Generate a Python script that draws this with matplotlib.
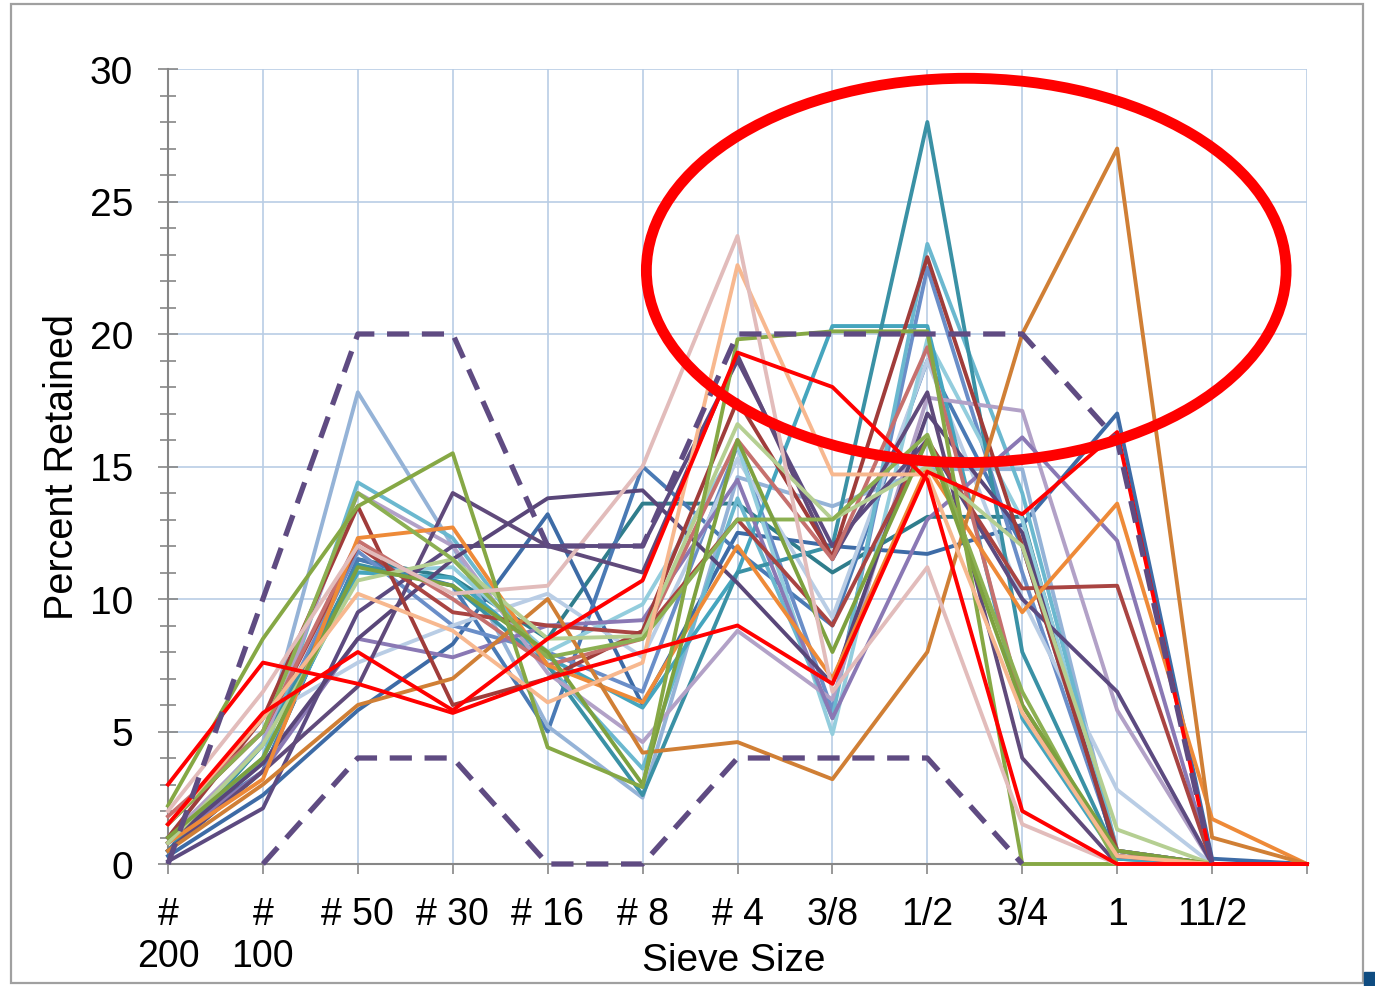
import matplotlib
matplotlib.use("Agg")
import matplotlib.pyplot as plt
from matplotlib.patches import Ellipse, Rectangle
import numpy as np

plt.rcParams['font.family'] = ['Liberation Sans', 'DejaVu Sans']

sieve_labels = ['#\n200', '#\n100', '# 50', '# 30', '# 16', '# 8', '# 4',
                '3/8', '1/2', '3/4', '1', '11/2', '']

nan = np.nan
upper_limit = [0, 10, 20, 20, 12, 12, 20, 20, 20, 20, 16, 0, nan]
lower_limit = [nan, 0, 4, 4, 0, 0, 4, 4, 4, 0, nan, nan, nan]

s01 = [2.2, 8.5, 13.5, 15.5, 4.4, 2.9, 19.8, 20.1, 20.1, 0, 0, 0, 0]
s02 = [1.5, 5.7, 8.0, 5.8, 8.5, 10.7, 19.3, 18.0, 14.5, 2.0, 0, 0, 0]
s03 = [3.0, 7.6, 6.8, 5.7, 7.0, 8.0, 9.0, 6.8, 14.8, 13.2, 16.3, 0, 0]
s04 = [0.5, 4.5, 11.3, 10.5, 7.5, 2.6, 11.0, 12.0, 28.0, 8.0, 0.3, 0, 0]
s05 = [0.5, 3.0, 6.0, 7.0, 10.0, 4.2, 4.6, 3.2, 8.0, 20.0, 27.0, 1.0, 0]
s06 = [2.0, 6.5, 12.0, 10.2, 10.5, 15.0, 23.7, 6.5, 11.2, 1.5, 0, 0, 0]
s07 = [1.5, 5.5, 10.2, 8.8, 6.1, 7.6, 22.6, 14.7, 14.7, 5.7, 0.3, 0, 0]
s08 = [0.8, 4.0, 11.0, 10.8, 7.8, 5.9, 11.0, 20.3, 20.3, 5.5, 0.2, 0, 0]
s09 = [0.3, 2.6, 5.8, 8.3, 13.2, 6.0, 12.5, 12.0, 11.7, 12.8, 17.0, 0.2, 0]
s10 = [1.0, 3.5, 11.5, 10.5, 5.0, 15.0, 11.8, 9.0, 19.0, 12.0, 0.5, 0, 0]
s11 = [0.1, 2.1, 9.5, 12.0, 12.0, 12.0, 19.0, 12.0, 16.0, 10.0, 6.5, 0, 0]
s12 = [0.5, 3.5, 6.7, 14.0, 12.0, 11.0, 19.2, 11.5, 17.8, 4.0, 0, 0, 0]
s13 = [1.0, 4.5, 14.0, 12.0, 7.2, 4.6, 8.8, 6.2, 17.6, 17.1, 5.8, 0, 0]
s14 = [0.8, 3.5, 8.5, 7.8, 9.0, 9.2, 14.5, 5.5, 13.0, 16.1, 12.2, 0, 0]
s15 = [1.5, 5.0, 12.0, 9.5, 9.0, 8.7, 13.0, 9.0, 16.0, 10.4, 10.5, 0, 0]
s16 = [1.0, 5.5, 13.5, 6.0, 7.0, 8.8, 17.5, 11.6, 22.9, 12.0, 0.5, 0, 0]
s17 = [1.8, 5.0, 12.2, 10.0, 7.5, 8.5, 16.0, 11.5, 19.5, 6.0, 0.3, 0, 0]
s18 = [0.8, 3.2, 12.3, 12.7, 7.5, 6.1, 12.0, 7.0, 15.0, 9.5, 13.6, 1.7, 0]
s19 = [1.0, 4.0, 14.4, 12.3, 7.5, 3.6, 13.8, 5.5, 23.4, 14.0, 0.5, 0, 0]
s20 = [0.8, 4.5, 10.7, 11.5, 8.5, 8.6, 16.6, 13.0, 15.0, 12.0, 1.3, 0, 0]
s21 = [1.5, 5.0, 14.0, 11.5, 7.8, 8.5, 13.0, 13.0, 16.2, 6.5, 0, 0, 0]
s22 = [1.0, 4.0, 11.2, 10.5, 8.0, 3.0, 16.0, 8.0, 16.0, 6.0, 0.5, 0, 0]
s23 = [0.8, 4.6, 17.8, 12.0, 5.2, 2.5, 14.6, 13.5, 14.9, 14.9, 0.5, 0, 0]
s24 = [1.0, 5.5, 7.6, 9.0, 10.2, 7.8, 15.3, 9.3, 19.0, 10.0, 2.8, 0, 0]
s25 = [0.5, 4.0, 11.0, 11.2, 8.0, 9.8, 15.8, 4.9, 19.8, 13.0, 0.5, 0, 0]
s26 = [0.5, 4.5, 11.8, 9.0, 8.0, 6.5, 15.8, 5.8, 22.5, 11.0, 0.5, 0, 0]
s27 = [0.5, 3.5, 11.5, 10.8, 8.5, 13.6, 13.6, 11.0, 13.1, 13.1, 0.2, 0, 0]
s28 = [0.8, 3.8, 8.5, 11.5, 13.8, 14.1, 10.6, 6.8, 17.0, 12.5, 0.3, 0, 0]

series = [s27, s09, s10, s26, s23, s24, s25, s19, s08, s04, s13, s14,
          s11, s12, s28, s15, s16, s17, s18, s05, s20, s21, s22, s01,
          s07, s06, s03, s02]
colors = ['#2F7D8C', '#3D6BA6', '#4A7AB5', '#6A8EC8', '#95B3D7', '#B9CDE5',
          '#93CDDD', '#6BB8CF', '#45A5BE', '#3A91A5', '#B2A1C7', '#8A78B4',
          '#5C4A80', '#604A7B', '#594679', '#A94442', '#A03C3A', '#C6706E',
          '#EE8A38', '#D07F35', '#B5CF92', '#8CB052', '#7DA13F', '#86A845',
          '#F7B88F', '#E2BCBB', '#FF0000', '#FF0000']

fig = plt.figure(figsize=(13.75, 9.87), dpi=100)
ax = fig.add_axes([168 / 1375, 1 - 865 / 987, (1307 - 168) / 1375, (865 - 70) / 987])

x = np.arange(len(sieve_labels))
for vals, c in zip(series, colors):
    ax.plot(x, vals, color=c, lw=2.8, clip_on=False, zorder=3)

limit_color = '#5F4B82'
ax.plot(x, upper_limit, color=limit_color, lw=3.8, ls=(0, (4.2, 2.4)), clip_on=False, zorder=4)
ax.plot(x, lower_limit, color=limit_color, lw=3.8, ls=(0, (4.2, 2.4)), clip_on=False, zorder=4)

ax.add_patch(Ellipse((8.41, 22.4), 6.74, 14.5, fill=False, edgecolor='#FF0000',
                     lw=7.8, zorder=5, clip_on=False))

ax.set_xlim(0, 12)
ax.set_ylim(0, 30)
ax.set_xticks(x)
ax.set_xticklabels(sieve_labels, fontsize=27, va='top')
ax.set_yticks(np.arange(0, 31, 5))
ax.set_yticks(np.arange(0, 31, 1), minor=True)
ax.tick_params(axis='y', which='major', direction='inout', length=14, width=1.2,
               color='#868686', labelsize=28, pad=18)
ax.tick_params(axis='y', which='minor', direction='inout', length=12, width=1.2,
               color='#868686')
ax.tick_params(axis='x', which='major', direction='out', length=7, width=1.2,
               color='#868686', pad=16)
ax.grid(True, which='major', color='#B9CDE5', lw=1.2, zorder=0)
ax.set_axisbelow(True)
for side in ['top', 'right']:
    ax.spines[side].set_visible(False)
for side in ['left', 'bottom']:
    ax.spines[side].set_color('#868686')
    ax.spines[side].set_linewidth(1.5)
    ax.spines[side].set_zorder(2)

ax.set_ylabel('Percent Retained', fontsize=28.5)
ax.yaxis.set_label_coords((62 - 168) / (1307 - 168), 0.5)
ax.set_xlabel('Sieve Size', fontsize=28)
ax.xaxis.set_label_coords((734 - 168) / (1307 - 168), -(961 - 865) / (865 - 70))
ax.xaxis.label.set_va('center')
ax.yaxis.label.set_ha('center')
ax.yaxis.label.set_va('center')

fig.patches.append(Rectangle((11 / 1375, 3 / 987), (1363 - 11) / 1375, (983 - 4) / 987,
                             transform=fig.transFigure, fill=False,
                             edgecolor='#A0A0A0', lw=1.6))
fig.patches.append(Rectangle((1364 / 1375, 0), 11 / 1375, 14 / 987,
                             transform=fig.transFigure, color='#0F4C81'))

fig.savefig('out.png', dpi=100)
